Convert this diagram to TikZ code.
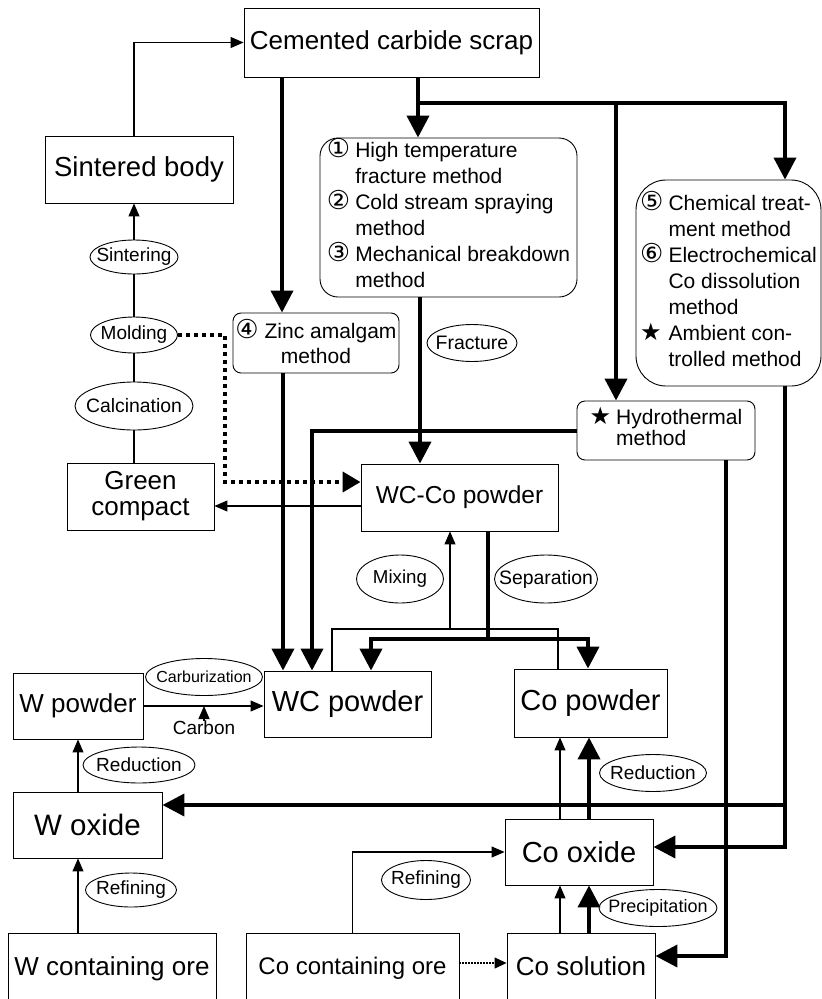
\documentclass[tikz,border=0pt]{standalone}
\usepackage{fontspec}
\setmainfont{Liberation Sans}
\newfontfamily\symfont{DejaVu Sans}
\usetikzlibrary{arrows.meta,shapes.geometric}
\newcommand{\fsz}[2]{\fontsize{#1}{#2}\selectfont}
\newcommand{\sym}[2][26]{\raisebox{0pt}[0pt][0pt]{\symfont\fontsize{#1}{#1}\selectfont #2}}
\newcommand{\ellabel}[1]{\makebox[0pt]{#1}}

\begin{document}
\begin{tikzpicture}[x=1pt, y=-1pt,
    box/.style={draw, line width=.9pt, inner sep=0pt, align=center},
    method/.style={box, rounded corners=#1},
    proc/.style={ellipse, draw, line width=.9pt, inner sep=0pt},
    flow/.style={line width=1.1pt},
    flowarrow/.style={flow, -{Triangle[width=11pt,length=13pt]}},
    main/.style={line width=4pt},
    mainarrow/.style={main, -{Triangle[width=22pt,length=22pt]}},
    dotarrow/.style={main, dash pattern=on 4pt off 4pt, -{Triangle[width=20pt,length=18pt]}},
    dotflow/.style={flow, dash pattern=on 1.5pt off 1.5pt, -{Triangle[width=11pt,length=12pt]}}]
    \useasboundingbox (0,0) rectangle (822,999);

    \node[box, minimum width=295pt, minimum height=69pt, font={\fsz{26}{30}}] (scrap) at (391.5,42.5) {Cemented carbide scrap};
    \node[box, minimum width=188pt, minimum height=67pt, font={\fsz{27.5}{30}}] (sinter) at (139,169.5) {Sintered body};
    \node[box, minimum width=147pt, minimum height=67pt, font={\fsz{26}{26}}] (green) at (140.5,496.5) {Green\\compact};
    \node[method=8pt, minimum width=166pt, minimum height=60pt, font={\fsz{21}{25}}] (zinc) at (316,343) {\sym{④} Zinc amalgam\\method};
    \node[method=18pt, minimum width=257pt, minimum height=159pt, font={\fsz{21}{26}}] (mech) at (448.5,217.5) {%
      \begin{tabular}{@{}l@{\hspace{5pt}}l@{}}
        \sym{①} & High temperature\\
                & fracture method\\
        \sym{②} & Cold stream spraying\\
                & method\\
        \sym{③} & Mechanical breakdown\\
                & method
      \end{tabular}};
    \node[method=30pt, minimum width=185pt, minimum height=206pt, font={\fsz{21}{26}}] (chem) at (728.5,283) {%
      \begin{tabular}{@{}l@{\hspace{5pt}}l@{}}
        \sym{⑤} & Chemical treat-\\
                & ment method\\
        \sym{⑥} & Electrochemical\\
                & Co dissolution\\
                & method\\
        \sym[24]{★} & Ambient con-\\
                & trolled method
      \end{tabular}};
    \node[method=8pt, minimum width=178pt, minimum height=59pt, font={\fsz{21}{20}}] (hydro) at (666,430.5) {%
      \begin{tabular}{@{}l@{\hspace{5pt}}l@{}}
        \sym[24]{★} & Hydrothermal\\
                & method
      \end{tabular}};
    \node[box, minimum width=197pt, minimum height=67pt, font={\fsz{24.5}{28}}] (wcco) at (459.5,497.5) {WC-Co powder};
    \node[box, minimum width=167pt, minimum height=66pt, font={\fsz{29}{32}}] (wc) at (347.5,704) {WC powder};
    \node[box, minimum width=153pt, minimum height=68pt, font={\fsz{29}{32}}] (copow) at (590.5,703) {Co powder};
    \node[box, minimum width=130pt, minimum height=66pt, font={\fsz{26}{30}}] (wpow) at (78,706) {W powder};
    \node[box, minimum width=149pt, minimum height=66pt, font={\fsz{29.5}{32}}] (wox) at (87.5,825) {W oxide};
    \node[box, minimum width=148pt, minimum height=66pt, font={\fsz{29}{32}}] (coox) at (579,852) {Co oxide};
    \node[box, minimum width=208pt, minimum height=72pt, font={\fsz{26}{30}}] (word) at (112,969) {\raisebox{6pt}{W containing ore}};
    \node[box, minimum width=213pt, minimum height=72pt, font={\fsz{24}{28}}] (coore) at (352.5,969) {\raisebox{6pt}{Co containing ore}};
    \node[box, minimum width=148pt, minimum height=72pt, font={\fsz{26}{30}}] (cosol) at (581,969) {\raisebox{6pt}{Co solution}};

    \node[proc, minimum width=88pt, minimum height=34pt, font={\fsz{19}{22}}] (sintering) at (134,257) {\ellabel{Sintering}};
    \node[proc, minimum width=87pt, minimum height=36pt, font={\fsz{19}{22}}] (molding) at (134,335) {\ellabel{Molding}};
    \node[proc, minimum width=118pt, minimum height=48pt, font={\fsz{19.4}{22}}] (calcination) at (134,406) {\ellabel{Calcination}};
    \node[proc, minimum width=90pt, minimum height=37pt, font={\fsz{19.5}{22}}] (fracture) at (472,343) {\ellabel{Fracture}};
    \node[proc, minimum width=87pt, minimum height=48pt, font={\fsz{18.7}{22}}] (mixing) at (400,579) {\ellabel{Mixing}};
    \node[proc, minimum width=103pt, minimum height=48pt, font={\fsz{19.4}{22}}] (separation) at (546,579) {\ellabel{Separation}};
    \node[proc, minimum width=117pt, minimum height=37pt, font={\fsz{16}{19}}] (carburization) at (204,677) {\ellabel{Carburization}};
    \node[proc, minimum width=112pt, minimum height=36pt, font={\fsz{19}{22}}] (reductionw) at (139,765) {\ellabel{Reduction}};
    \node[proc, minimum width=91pt, minimum height=34pt, font={\fsz{19}{22}}] (refiningw) at (131,890) {\ellabel{Refining}};
    \node[proc, minimum width=89pt, minimum height=39pt, font={\fsz{19}{22}}] (refiningco) at (426,880) {\ellabel{Refining}};
    \node[proc, minimum width=107pt, minimum height=37pt, font={\fsz{19}{22}}] (reductionco) at (653,773) {\ellabel{Reduction}};
    \node[proc, minimum width=118pt, minimum height=37pt, font={\fsz{18}{21}}] (precipitation) at (658,908) {\ellabel{Precipitation}};
    \node[inner sep=0pt, font={\fsz{19}{22}}] (carbon) at (204,728) {Carbon};

    \coordinate (fork) at (418,103);
    \coordinate (mixpt) at (450,629);
    \coordinate (seppt) at (488,639);

    \draw[flowarrow] ([xshift=-5pt]sinter.north) |- (scrap.west);
    \draw[flowarrow] (sintering.north) -- (sintering.north |- sinter.south);
    \draw[flow] (sintering.south) -- (molding.north);
    \draw[flow] (molding.south) -- (calcination.north);
    \draw[flow] (calcination.south) -- (calcination.south |- green.north);
    \draw[flowarrow] ([yshift=-8.5pt]wcco.west) -- ([yshift=-8.5pt]wcco.west -| green.east);
    \draw[dotarrow] (molding.east) -- ++(47,0) |- ([yshift=15.5pt]wcco.west);

    \draw[mainarrow] ([xshift=-34pt]zinc.north |- scrap.south) -- ([xshift=-34pt]zinc.north);
    \draw[mainarrow] ([xshift=-33pt]zinc.south) -- ([xshift=-33pt]zinc.south |- wc.north);
    \draw[mainarrow] ([xshift=26.5pt]scrap.south) -- ([xshift=26.5pt]scrap.south |- mech.north);
    \draw[mainarrow] (fork) -| ([xshift=56.5pt]chem.north);
    \draw[mainarrow] ([xshift=-50pt]hydro.north |- fork) -- ([xshift=-50pt]hydro.north);
    \draw[mainarrow] ([xshift=-39.5pt]wcco.north |- mech.south) -- ([xshift=-39.5pt]wcco.north);
    \draw[mainarrow] (hydro.west) -| ([xshift=-35.5pt]wc.north);

    \draw[flow] ([xshift=-15.5pt]wc.north) |- (mixpt) -| ([xshift=-32.5pt]copow.north);
    \draw[flowarrow] (mixpt) -- ([xshift=-9.5pt]wcco.south);
    \draw[main] ([xshift=28.5pt]wcco.south) -- (seppt);
    \draw[mainarrow] (seppt) -| ([xshift=23.5pt]wc.north);
    \draw[mainarrow] (seppt) -| ([xshift=-2.5pt]copow.north);

    \draw[flowarrow] (wpow.east) -- (wpow.east -| wc.west);
    \draw[flowarrow] (carbon.north) -- (carbon.north |- wpow.east);
    \draw[flowarrow] (wpow.south |- wox.north) -- (wpow.south);
    \draw[flowarrow] (wpow.south |- word.north) -- (wpow.south |- wox.south);

    \draw[mainarrow] ([xshift=56.5pt]chem.south) |- ([yshift=20pt]wox.east);
    \draw[mainarrow] ([xshift=56.5pt]chem.south) |- ([yshift=5pt]coox.east);
    \draw[mainarrow] ([xshift=60pt]hydro.south) |- ([yshift=13pt]cosol.east);

    \draw[flowarrow] (coore.north) |- (coox.west);
    \draw[dotflow] ([yshift=6pt]coore.east) -- ([yshift=6pt]coore.east -| cosol.west);
    \draw[flowarrow] ([xshift=-21pt]cosol.north) -- ([xshift=-21pt]cosol.north |- coox.south);
    \draw[mainarrow] ([xshift=8pt]cosol.north) -- ([xshift=8pt]cosol.north |- coox.south);
    \draw[flowarrow] ([xshift=-19pt]coox.north) -- ([xshift=-19pt]coox.north |- copow.south);
    \draw[mainarrow] ([xshift=10pt]coox.north) -- ([xshift=10pt]coox.north |- copow.south);
\end{tikzpicture}
\end{document}
